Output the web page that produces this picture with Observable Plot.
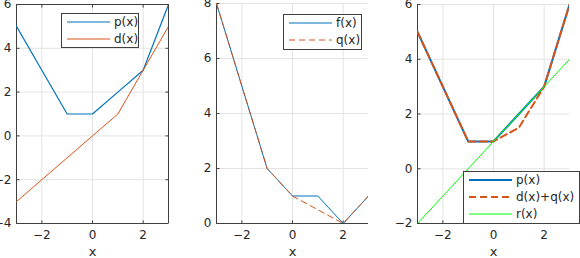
<!DOCTYPE html>
<html><head><meta charset="utf-8">
<script src="https://cdn.jsdelivr.net/npm/d3@7"></script>
<script src="https://cdn.jsdelivr.net/npm/@observablehq/plot@0.6"></script>
<style>
body{margin:0;background:#fff;}
#wrap{position:relative;width:580px;height:258px;overflow:hidden;}
#wrap>div{position:absolute;top:0;}
</style></head><body><div id="wrap"><div id="p1" style="left:0"></div><div id="p2" style="left:190px"></div><div id="p3" style="left:380px"></div></div>
<script>
const xs = [-3, -2, -1, 0, 1, 2, 3];
const pVals = [5, 3, 1, 1, 2, 3, 6];
const dVals = [-3, -2, -1, 0, 1, 3, 5];
const fVals = [8, 5, 2, 1, 1, 0, 1];
const qVals = [8, 5, 2, 1, 0.5, 0, 1];
const dqVals = [5, 3, 1, 1, 1.5, 3, 6];
const rVals = [-2, -1, 0, 1, 2, 3, 4];
const xTicks = [-2, 0, 2];
const y1Ticks = [-4, -2, 0, 2, 4, 6];
const y2Ticks = [0, 2, 4, 6, 8];
const y3Ticks = [-2, 0, 2, 4, 6];

const BLUE = "#0072BD", ORANGE = "#D95319", GREEN = "#00FF00";
const AX = "#404040", GRID = "#e3e3e3", TXT = "#262626";
const FONT = "DejaVu Sans";

const rows = (vals) => xs.map((x, i) => ({x, y: vals[i]}));

function panel({width, ml, mr, mt, yDomain, yTicks, series, box}) {
  const [y0, y1] = yDomain;
  const marks = [
    Plot.gridX(xTicks, {stroke: GRID, strokeOpacity: 1}),
    Plot.gridY(yTicks, {stroke: GRID, strokeOpacity: 1}),
    Plot.axisX(xTicks, {tickSize: 0, tickPadding: 7, fontSize: 12, color: TXT, label: null}),
    Plot.axisX([], {tickSize: 0, fontSize: 13, color: TXT, label: "x", labelAnchor: "center", labelArrow: "none", labelOffset: 32}),
    Plot.axisY(yTicks, {tickSize: 0, tickPadding: 5, fontSize: 12, color: TXT, label: null}),
    Plot.ruleX([-3], {y1: y0, y2: y1, stroke: AX}),
    Plot.ruleY([y0], {x1: -3, x2: 3, stroke: AX}),
    Plot.link(yTicks, {x1: -3, x2: -3 + 0.12, y1: d => d, y2: d => d, stroke: AX}),
    Plot.link(xTicks, {x1: d => d, x2: d => d, y1: y0, y2: y0 + (y1 - y0) * 0.014, stroke: AX})
  ];
  if (box) {
    marks.push(
      Plot.ruleX([3], {y1: y0, y2: y1, stroke: AX}),
      Plot.ruleY([y1], {x1: -3, x2: 3, stroke: AX}),
      Plot.link(yTicks, {x1: 3, x2: 3 - 0.12, y1: d => d, y2: d => d, stroke: AX}),
      Plot.link(xTicks, {x1: d => d, x2: d => d, y1: y1, y2: y1 - (y1 - y0) * 0.014, stroke: AX})
    );
  }
  for (const s of series) {
    marks.push(Plot.line(rows(s.vals), {x: "x", y: "y", stroke: s.color, strokeWidth: s.w, strokeDasharray: s.dash || null, clip: true}));
  }
  return Plot.plot({
    width, height: 258,
    marginLeft: ml, marginRight: mr, marginTop: mt, marginBottom: 35,
    style: {fontFamily: FONT, fontSize: "12px", background: "transparent", overflow: "visible"},
    x: {domain: [-3, 3]},
    y: {domain: yDomain},
    marks
  });
}

function legend(svg, {x, y, w, h, items}) {
  const g = d3.select(svg).append("g").attr("font-family", FONT).attr("font-size", 12).attr("text-anchor", "start");
  g.append("rect").attr("x", x + 0.5).attr("y", y + 0.5).attr("width", w).attr("height", h)
    .attr("fill", "#fff").attr("stroke", AX).attr("stroke-width", 1);
  items.forEach((it, i) => {
    const cy = y + 9 + i * 17;
    g.append("line").attr("x1", x + 6).attr("x2", x + 49).attr("y1", cy).attr("y2", cy)
      .attr("stroke", it.color).attr("stroke-width", it.w).attr("stroke-dasharray", it.dash || null);
    g.append("text").attr("x", x + 53).attr("y", cy).attr("dy", "0.35em").attr("text-anchor", "start").attr("fill", TXT).text(it.label);
  });
}

const s1 = [
  {label: "p(x)", vals: pVals, color: BLUE, w: 1.2},
  {label: "d(x)", vals: dVals, color: ORANGE, w: 1}
];
const c1 = panel({width: 190, ml: 16, mr: 22, mt: 4, yDomain: [-4, 6], yTicks: y1Ticks, series: s1, box: true});
document.getElementById("p1").append(c1);
legend(c1, {x: 61, y: 13, w: 77, h: 34, items: s1});

const s2 = [
  {label: "f(x)", vals: fVals, color: BLUE, w: 1},
  {label: "q(x)", vals: qVals, color: ORANGE, w: 1, dash: "6,4"}
];
const c2 = panel({width: 190, ml: 26, mr: 12, mt: 3, yDomain: [0, 8], yTicks: y2Ticks, series: s2, box: false});
document.getElementById("p2").append(c2);
legend(c2, {x: 93, y: 14, w: 78, h: 35, items: s2});

const s3 = [
  {label: "p(x)", vals: pVals, color: BLUE, w: 2},
  {label: "d(x)+q(x)", vals: dqVals, color: ORANGE, w: 2, dash: "7,4"},
  {label: "r(x)", vals: rVals, color: GREEN, w: 1}
];
const c3 = panel({width: 200, ml: 37, mr: 11, mt: 4, yDomain: [-2, 6], yTicks: y3Ticks, series: s3, box: false});
document.getElementById("p3").append(c3);
legend(c3, {x: 83, y: 171, w: 116, h: 52, items: s3});
</script></body></html>
